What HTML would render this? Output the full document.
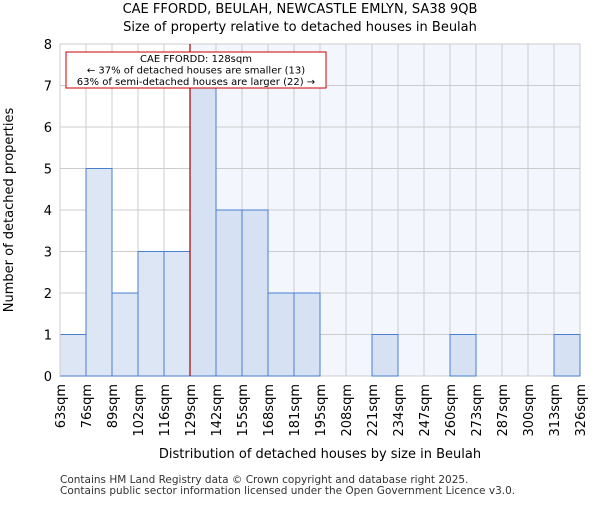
<!DOCTYPE html>
<html><head><meta charset="utf-8"><style>body{margin:0;background:#fff}svg{font-family:"DejaVu Sans","Liberation Sans",sans-serif}</style></head>
<body>
<svg id="chart" width="600" height="500" xmlns="http://www.w3.org/2000/svg">
<text x="300" y="13" text-anchor="middle" font-size="13">CAE FFORDD, BEULAH, NEWCASTLE EMLYN, SA38 9QB</text>
<text x="300" y="31" text-anchor="middle" font-size="13">Size of property relative to detached houses in Beulah</text>
<g id="plot"></g>
<text x="320" y="458" text-anchor="middle" font-size="13">Distribution of detached houses by size in Beulah</text>
<text transform="translate(13,210) rotate(-90)" text-anchor="middle" font-size="13">Number of detached properties</text>
<text x="60" y="483" font-size="10.5" fill="#333">Contains HM Land Registry data © Crown copyright and database right 2025.</text>
<text x="60" y="494" font-size="10.5" fill="#333">Contains public sector information licensed under the Open Government Licence v3.0.</text>
</svg>
<script>
const categories=["63sqm","76sqm","89sqm","102sqm","116sqm","129sqm","142sqm","155sqm","168sqm","181sqm","195sqm","208sqm","221sqm","234sqm","247sqm","260sqm","273sqm","287sqm","300sqm","313sqm","326sqm"];
const counts=[1,5,2,3,3,7,4,4,2,2,0,0,1,0,0,1,0,0,0,1];
const yTicks=[0,1,2,3,4,5,6,7,8];
const markerBin=5;
const x0=60,x1=580,y0=376,yTop=44,yMax=8;
const bw=(x1-x0)/counts.length;
const X=i=>x0+i*bw, Y=v=>y0-(y0-yTop)*v/yMax;
const NS="http://www.w3.org/2000/svg";
const g=document.getElementById('plot');
function mk(t,a,p){const e=document.createElementNS(NS,t);for(const k in a)e.setAttribute(k,a[k]);(p||g).appendChild(e);return e;}
const mx=X(markerBin);
let bg=mk('rect',{x:mx,y:yTop,width:x1-mx,height:y0-yTop,fill:'#f3f6fd'});


for(let i=0;i<=counts.length;i++){let l=mk('line',{x1:X(i),x2:X(i),y1:yTop,y2:y0,stroke:'#ccc','stroke-width':1});

}
yTicks.forEach(t=>{let l=mk('line',{x1:x0,x2:x1,y1:Y(t),y2:Y(t),stroke:'#ccc','stroke-width':1});


let tx=mk('text',{x:x0-8,y:Y(t)+5,'text-anchor':'end','font-size':13});tx.textContent=t;

});
counts.forEach((v,i)=>{if(!v)return;let r=mk('rect',{x:X(i),y:Y(v),width:bw,height:y0-Y(v),fill:i>=markerBin?'#d6e2f3':'#dce6f4',stroke:'#4a7fcf','stroke-width':1});

});
categories.forEach((c,i)=>{let t=mk('text',{transform:`translate(${X(i)+5},${y0+8}) rotate(-90)`,'text-anchor':'end','font-size':13});t.textContent=c;

});
let ax=mk('line',{x1:x0,x2:x0,y1:yTop,y2:y0,stroke:'#ccc'});


let ml=mk('line',{x1:mx,x2:mx,y1:yTop,y2:y0,stroke:'#a00','stroke-width':1.2});


let box=mk('rect',{x:66,y:52,width:260,height:36,fill:'#fff',stroke:'#c00','stroke-width':1});


["CAE FFORDD: 128sqm","← 37% of detached houses are smaller (13)","63% of semi-detached houses are larger (22) →"].forEach((s,k)=>{let t=mk('text',{x:196,y:62+k*11.5,'text-anchor':'middle','font-size':10});t.textContent=s;

});
</script>
</body></html>
